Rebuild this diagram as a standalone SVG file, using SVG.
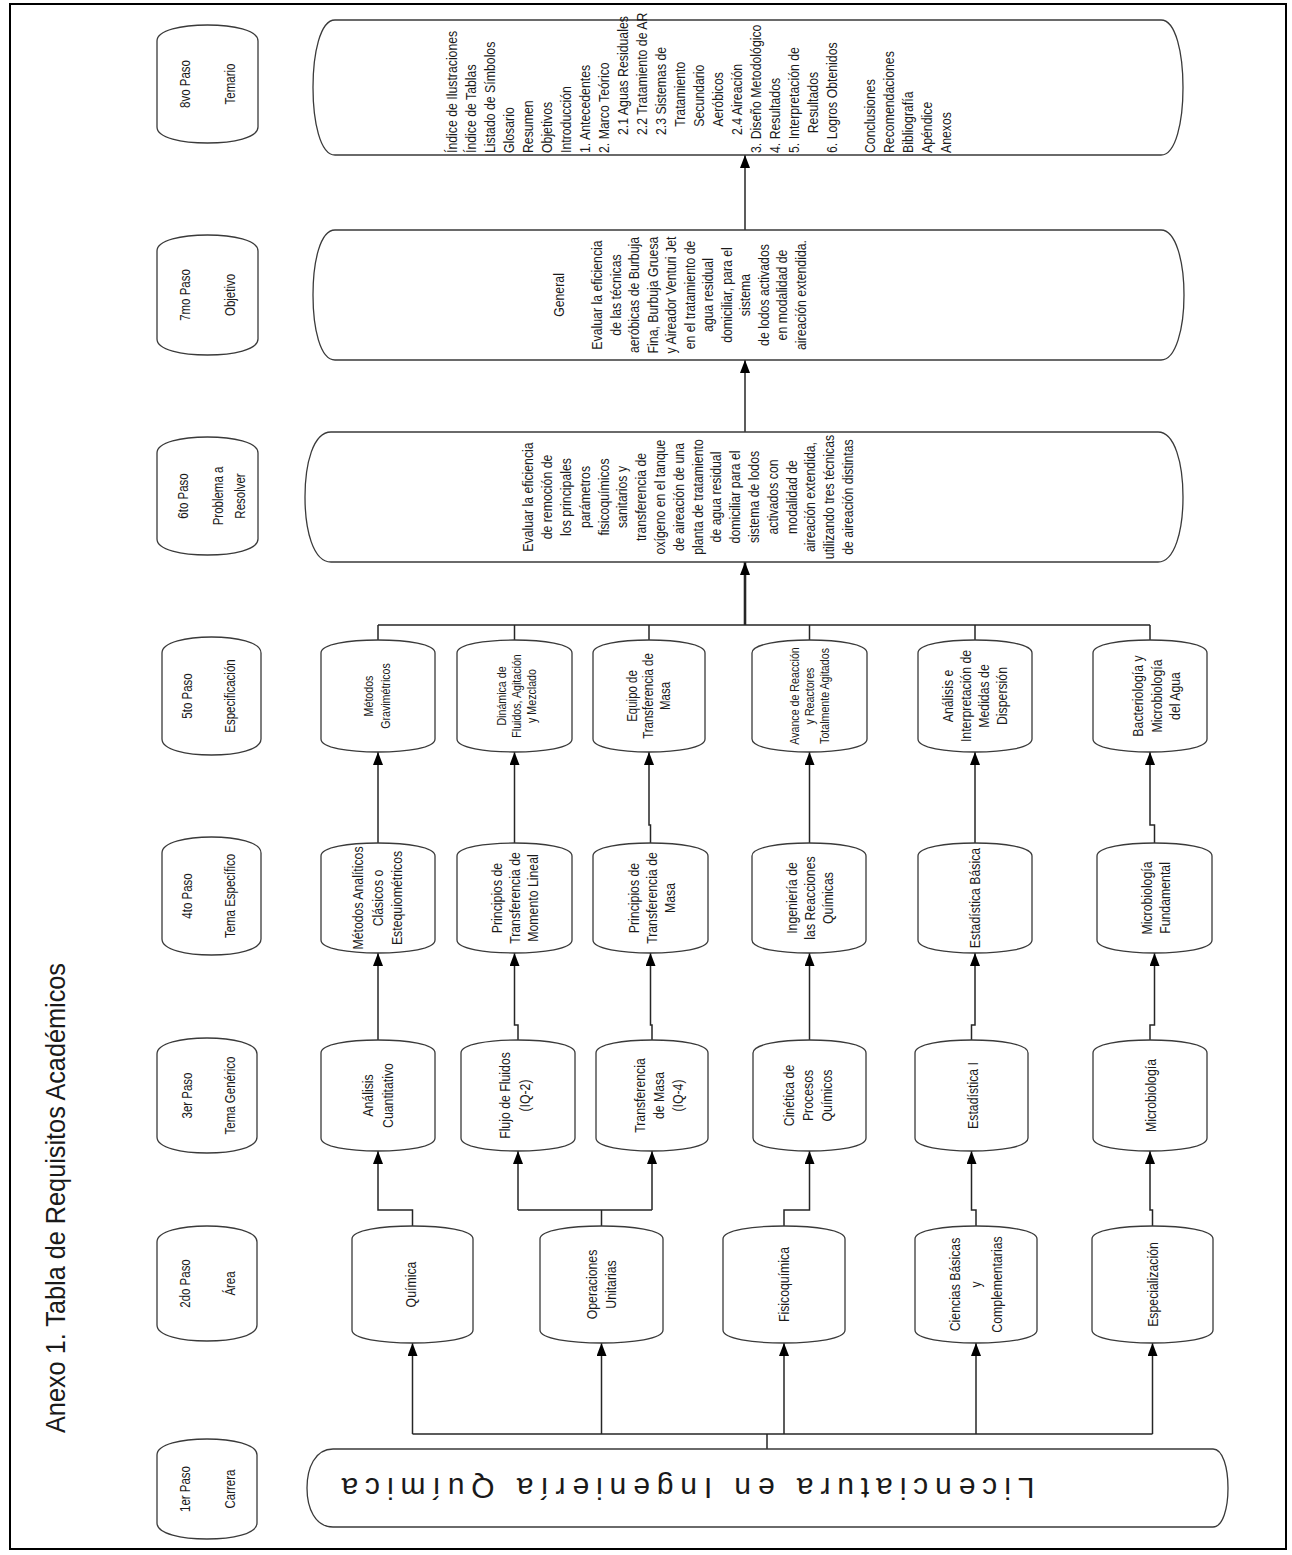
<svg xmlns="http://www.w3.org/2000/svg" width="1292" height="1555" viewBox="0 0 1292 1555">
<style>
.nd{fill:#fff;stroke:#3a3a3a;stroke-width:1.3}
.cn{fill:none;stroke:#262626;stroke-width:1.5}
.tx{font-family:"Liberation Sans",Arial,sans-serif;fill:#1a1a1a;text-anchor:middle;dominant-baseline:central}
.st{font-size:14px}
.n15{font-size:15px}
.n14{font-size:14px}
.n13{font-size:13px}
.lt{text-anchor:start}
</style>
<defs>
<marker id="ah" viewBox="0 0 13 10" refX="13" refY="5" markerWidth="13" markerHeight="10" markerUnits="userSpaceOnUse" orient="auto"><path d="M0,0 L13,5 L0,10 Z" fill="#000"/></marker>
</defs>
<rect x="10" y="4" width="1276" height="1545" fill="#fff" stroke="#000" stroke-width="2"/>
<g id="title"><text class="tx" style="font-size:27px" transform="translate(56,1198) rotate(-90)" textLength="470" lengthAdjust="spacingAndGlyphs">Anexo 1. Tabla de Requisitos Académicos</text></g>

<g id="connectors">
<path class="cn" d="M767,1449 V1434 M412.5,1434 H1152.5"/>
<path class="cn" marker-end="url(#ah)" d="M412.5,1434 V1343"/>
<path class="cn" marker-end="url(#ah)" d="M601.5,1434 V1343"/>
<path class="cn" marker-end="url(#ah)" d="M784,1434 V1343"/>
<path class="cn" marker-end="url(#ah)" d="M976,1434 V1343"/>
<path class="cn" marker-end="url(#ah)" d="M1152.5,1434 V1343"/>
<path class="cn" marker-end="url(#ah)" d="M412.5,1226 V1210 H378 V1151"/>
<path class="cn" d="M601.5,1226 V1210 M518,1210 H652"/>
<path class="cn" marker-end="url(#ah)" d="M518,1210 V1151"/>
<path class="cn" marker-end="url(#ah)" d="M652,1210 V1151"/>
<path class="cn" marker-end="url(#ah)" d="M784,1226 V1210 H809.5 V1151"/>
<path class="cn" marker-end="url(#ah)" d="M976,1226 V1210 H971.5 V1151"/>
<path class="cn" marker-end="url(#ah)" d="M1152.5,1226 V1210 H1150 V1151"/>
<path class="cn" marker-end="url(#ah)" d="M378,1040 V953"/>
<path class="cn" marker-end="url(#ah)" d="M518,1040 V1025 H514.5 V953"/>
<path class="cn" marker-end="url(#ah)" d="M652,1040 V1025 H650.5 V953"/>
<path class="cn" marker-end="url(#ah)" d="M809.5,1040 V953"/>
<path class="cn" marker-end="url(#ah)" d="M971.5,1040 V1025 H975 V953"/>
<path class="cn" marker-end="url(#ah)" d="M1150,1040 V1025 H1154.5 V953"/>
<path class="cn" marker-end="url(#ah)" d="M378,843 V752"/>
<path class="cn" marker-end="url(#ah)" d="M514.5,843 V752"/>
<path class="cn" marker-end="url(#ah)" d="M650.5,843 V825 H649 V752"/>
<path class="cn" marker-end="url(#ah)" d="M809.5,843 V752"/>
<path class="cn" marker-end="url(#ah)" d="M975,843 V752"/>
<path class="cn" marker-end="url(#ah)" d="M1154.5,843 V825 H1150 V752"/>
<path class="cn" d="M378,640 V625 M514.5,640 V625 M649,640 V625 M809.5,640 V625 M975,640 V625 M1150,640 V625 M378,625 H1150"/>
<path class="cn" style="stroke-width:2.6" marker-end="url(#ah)" d="M745,625 V562"/>
<path class="cn" marker-end="url(#ah)" d="M745,432 V360"/>
<path class="cn" marker-end="url(#ah)" d="M745,230 V155"/>
</g>

<g id="step8"><path class="nd" d="M157,41 C157,30 182,25 207.5,25 C233,25 258,30 258,41 L258,127 C258,138 233,143 207.5,143 C182,143 157,138 157,127 Z"/>
<text class="tx st" transform="translate(207.5,84) rotate(-90) scale(0.82,1)"><tspan x="0" y="-22.5">8vo Paso</tspan><tspan x="0" y="22.5">Temario</tspan></text></g>
<g id="step7"><path class="nd" d="M157,251 C157,240 182,235 207.5,235 C233,235 258,240 258,251 L258,339 C258,350 233,355 207.5,355 C182,355 157,350 157,339 Z"/>
<text class="tx st" transform="translate(207.5,295) rotate(-90) scale(0.82,1)"><tspan x="0" y="-22.5">7mo Paso</tspan><tspan x="0" y="22.5">Objetivo</tspan></text></g>
<g id="step6"><path class="nd" d="M157,453 C157,442 182,437 207.5,437 C233,437 258,442 258,453 L258,539 C258,550 233,555 207.5,555 C182,555 157,550 157,539 Z"/>
<text class="tx st" transform="translate(207.5,496) rotate(-90) scale(0.82,1)"><tspan x="0" y="-24.5">6to Paso</tspan><tspan x="0" y="10.5">Problema a</tspan><tspan x="0" y="32">Resolver</tspan></text></g>
<g id="step5"><path class="nd" d="M162,653 C162,642 187,637 211.5,637 C236,637 261,642 261,653 L261,739 C261,750 236,755 211.5,755 C187,755 162,750 162,739 Z"/>
<text class="tx st" transform="translate(211.5,696) rotate(-90) scale(0.82,1)"><tspan x="0" y="-24.5">5to Paso</tspan><tspan x="0" y="18.5">Especificación</tspan></text></g>
<g id="step4"><path class="nd" d="M162,853 C162,842 187,837 211.5,837 C236,837 261,842 261,853 L261,939 C261,950 236,955 211.5,955 C187,955 162,950 162,939 Z"/>
<text class="tx st" transform="translate(211.5,896) rotate(-90) scale(0.82,1)"><tspan x="0" y="-24.5">4to Paso</tspan><tspan x="0" y="18.5">Tema Específico</tspan></text></g>
<g id="step3"><path class="nd" d="M157,1054 C157,1043 182,1038 207,1038 C232,1038 257,1043 257,1054 L257,1137 C257,1148 232,1153 207,1153 C182,1153 157,1148 157,1137 Z"/>
<text class="tx st" transform="translate(207,1095.5) rotate(-90) scale(0.82,1)"><tspan x="0" y="-20">3er Paso</tspan><tspan x="0" y="23">Tema Genérico</tspan></text></g>
<g id="step2"><path class="nd" d="M157,1242 C157,1231 182,1226 207,1226 C232,1226 257,1231 257,1242 L257,1325 C257,1336 232,1341 207,1341 C182,1341 157,1336 157,1325 Z"/>
<text class="tx st" transform="translate(207,1283.5) rotate(-90) scale(0.82,1)"><tspan x="0" y="-22">2do Paso</tspan><tspan x="0" y="23">Área</tspan></text></g>
<g id="step1"><path class="nd" d="M157,1455 C157,1444 182,1439 207,1439 C232,1439 257,1444 257,1455 L257,1523 C257,1534 232,1539 207,1539 C182,1539 157,1534 157,1523 Z"/>
<text class="tx st" transform="translate(207,1489) rotate(-90) scale(0.82,1)"><tspan x="0" y="-22">1er Paso</tspan><tspan x="0" y="23">Carrera</tspan></text></g>

<g id="carrera"><path class="nd" d="M333,1449 L1213,1449 C1223,1449 1228,1468 1228,1488 C1228,1508 1223,1527 1213,1527 L333,1527 C315,1527 307,1508 307,1488 C307,1468 315,1449 333,1449 Z"/>
<text class="tx" style="font-size:30px" transform="translate(688,1488) rotate(180)" textLength="693" lengthAdjust="spacing">Licenciatura en Ingeniería Química</text></g>

<g id="quimica"><path class="nd" d="M352,1239 C352,1230 382,1226 412.5,1226 C443,1226 473,1230 473,1239 L473,1330 C473,1339 443,1343 412.5,1343 C382,1343 352,1339 352,1330 Z"/>
<text class="tx n15" transform="translate(412.5,1284.5) rotate(-90) scale(0.82,1)"><tspan x="0" y="-2">Química</tspan></text></g>
<g id="operaciones"><path class="nd" d="M540,1239 C540,1230 571,1226 601.5,1226 C632,1226 663,1230 663,1239 L663,1330 C663,1339 632,1343 601.5,1343 C571,1343 540,1339 540,1330 Z"/>
<text class="tx n15" transform="translate(601.5,1284.5) rotate(-90) scale(0.82,1)"><tspan x="0" y="-10">Operaciones</tspan><tspan x="0" y="9">Unitarias</tspan></text></g>
<g id="fisicoquimica"><path class="nd" d="M723,1239 C723,1230 753,1226 784,1226 C815,1226 845,1230 845,1239 L845,1330 C845,1339 815,1343 784,1343 C753,1343 723,1339 723,1330 Z"/>
<text class="tx n15" transform="translate(784,1284.5) rotate(-90) scale(0.82,1)"><tspan x="0" y="0">Fisicoquímica</tspan></text></g>
<g id="ciencias"><path class="nd" d="M915,1239 C915,1230 945,1226 976,1226 C1007,1226 1037,1230 1037,1239 L1037,1330 C1037,1339 1007,1343 976,1343 C945,1343 915,1339 915,1330 Z"/>
<text class="tx n15" transform="translate(976,1284.5) rotate(-90) scale(0.82,1)"><tspan x="0" y="-21">Ciencias Básicas</tspan><tspan x="0" y="0">y</tspan><tspan x="0" y="21">Complementarias</tspan></text></g>
<g id="especializacion"><path class="nd" d="M1092,1239 C1092,1230 1122,1226 1152.5,1226 C1183,1226 1213,1230 1213,1239 L1213,1330 C1213,1339 1183,1343 1152.5,1343 C1122,1343 1092,1339 1092,1330 Z"/>
<text class="tx n15" transform="translate(1152.5,1284.5) rotate(-90) scale(0.82,1)"><tspan x="0" y="0">Especialización</tspan></text></g>

<g id="analisis-cuantitativo"><path class="nd" d="M321,1053 C321,1044 349,1040 378,1040 C407,1040 435,1044 435,1053 L435,1138 C435,1147 407,1151 378,1151 C349,1151 321,1147 321,1138 Z"/>
<text class="tx n15" transform="translate(378,1095.5) rotate(-90) scale(0.82,1)"><tspan x="0" y="-10">Análisis</tspan><tspan x="0" y="10">Cuantitativo</tspan></text></g>
<g id="flujo-fluidos"><path class="nd" d="M461,1053 C461,1044 489,1040 518,1040 C547,1040 575,1044 575,1053 L575,1138 C575,1147 547,1151 518,1151 C489,1151 461,1147 461,1138 Z"/>
<text class="tx n15" transform="translate(518,1095.5) rotate(-90) scale(0.82,1)"><tspan x="0" y="-13">Flujo de Fluidos</tspan><tspan x="0" y="7">(IQ-2)</tspan></text></g>
<g id="transferencia-masa"><path class="nd" d="M596,1053 C596,1044 624,1040 652,1040 C680,1040 708,1044 708,1053 L708,1138 C708,1147 680,1151 652,1151 C624,1151 596,1147 596,1138 Z"/>
<text class="tx n15" transform="translate(652,1095.5) rotate(-90) scale(0.82,1)"><tspan x="0" y="-12">Transferencia</tspan><tspan x="0" y="7">de Masa</tspan><tspan x="0" y="26">(IQ-4)</tspan></text></g>
<g id="cinetica"><path class="nd" d="M753,1053 C753,1044 781,1040 809.5,1040 C838,1040 866,1044 866,1053 L866,1138 C866,1147 838,1151 809.5,1151 C781,1151 753,1147 753,1138 Z"/>
<text class="tx n15" transform="translate(809.5,1095.5) rotate(-90) scale(0.82,1)"><tspan x="0" y="-21">Cinética de</tspan><tspan x="0" y="-2">Procesos</tspan><tspan x="0" y="17">Químicos</tspan></text></g>
<g id="estadistica-1"><path class="nd" d="M915,1053 C915,1044 943,1040 971.5,1040 C1000,1040 1028,1044 1028,1053 L1028,1138 C1028,1147 1000,1151 971.5,1151 C943,1151 915,1147 915,1138 Z"/>
<text class="tx n15" transform="translate(971.5,1095.5) rotate(-90) scale(0.82,1)"><tspan x="0" y="1">Estadística I</tspan></text></g>
<g id="microbiologia"><path class="nd" d="M1093,1053 C1093,1044 1121,1040 1150,1040 C1179,1040 1207,1044 1207,1053 L1207,1138 C1207,1147 1179,1151 1150,1151 C1121,1151 1093,1147 1093,1138 Z"/>
<text class="tx n15" transform="translate(1150,1095.5) rotate(-90) scale(0.82,1)"><tspan x="0" y="1">Microbiología</tspan></text></g>

<g id="metodos-analiticos"><path class="nd" d="M321,856 C321,847 349,843 378,843 C407,843 435,847 435,856 L435,940 C435,949 407,953 378,953 C349,953 321,949 321,940 Z"/>
<text class="tx n15" transform="translate(378,898) rotate(-90) scale(0.82,1)"><tspan x="0" y="-20">Métodos Analíticos</tspan><tspan x="0" y="0">Clásicos o</tspan><tspan x="0" y="19">Estequiométricos</tspan></text></g>
<g id="principios-momento"><path class="nd" d="M457,856 C457,847 486,843 514.5,843 C543,843 572,847 572,856 L572,940 C572,949 543,953 514.5,953 C486,953 457,949 457,940 Z"/>
<text class="tx n15" transform="translate(514.5,898) rotate(-90) scale(0.82,1)"><tspan x="0" y="-18">Principios de</tspan><tspan x="0" y="0">Transferencia de</tspan><tspan x="0" y="18">Momento Lineal</tspan></text></g>
<g id="principios-masa"><path class="nd" d="M593,856 C593,847 622,843 650.5,843 C679,843 708,847 708,856 L708,940 C708,949 679,953 650.5,953 C622,953 593,949 593,940 Z"/>
<text class="tx n15" transform="translate(650.5,898) rotate(-90) scale(0.82,1)"><tspan x="0" y="-17">Principios de</tspan><tspan x="0" y="1">Transferencia de</tspan><tspan x="0" y="19">Masa</tspan></text></g>
<g id="ingenieria-reacciones"><path class="nd" d="M752,856 C752,847 780,843 809,843 C838,843 866,847 866,856 L866,940 C866,949 838,953 809,953 C780,953 752,949 752,940 Z"/>
<text class="tx n15" transform="translate(809,898) rotate(-90) scale(0.82,1)"><tspan x="0" y="-17">Ingeniería de</tspan><tspan x="0" y="1">las Reacciones</tspan><tspan x="0" y="19">Químicas</tspan></text></g>
<g id="estadistica-basica"><path class="nd" d="M918,856 C918,847 946,843 975,843 C1004,843 1032,847 1032,856 L1032,940 C1032,949 1004,953 975,953 C946,953 918,949 918,940 Z"/>
<text class="tx n15" transform="translate(975,898) rotate(-90) scale(0.82,1)"><tspan x="0" y="0">Estadística Básica</tspan></text></g>
<g id="microbiologia-fundamental"><path class="nd" d="M1097,856 C1097,847 1126,843 1154.5,843 C1183,843 1212,847 1212,856 L1212,940 C1212,949 1183,953 1154.5,953 C1126,953 1097,949 1097,940 Z"/>
<text class="tx n15" transform="translate(1154.5,898) rotate(-90) scale(0.82,1)"><tspan x="0" y="-8">Microbiología</tspan><tspan x="0" y="10">Fundamental</tspan></text></g>

<g id="metodos-gravimetricos"><path class="nd" d="M321,653 C321,644 349,640 378,640 C407,640 435,644 435,653 L435,739 C435,748 407,752 378,752 C349,752 321,748 321,739 Z"/>
<text class="tx n13" transform="translate(378,696) rotate(-90) scale(0.82,1)"><tspan x="0" y="-9">Métodos</tspan><tspan x="0" y="8">Gravimétricos</tspan></text></g>
<g id="dinamica-fluidos"><path class="nd" d="M457,653 C457,644 486,640 514.5,640 C543,640 572,644 572,653 L572,739 C572,748 543,752 514.5,752 C486,752 457,748 457,739 Z"/>
<text class="tx n13" transform="translate(514.5,696) rotate(-90) scale(0.82,1)"><tspan x="0" y="-13">Dinámica de</tspan><tspan x="0" y="2">Fluidos, Agitación</tspan><tspan x="0" y="17">y Mezclado</tspan></text></g>
<g id="equipo-transferencia"><path class="nd" d="M593,653 C593,644 621,640 649,640 C677,640 705,644 705,653 L705,739 C705,748 677,752 649,752 C621,752 593,748 593,739 Z"/>
<text class="tx n14" transform="translate(649,696) rotate(-90) scale(0.82,1)"><tspan x="0" y="-17">Equipo de</tspan><tspan x="0" y="-1">Transferencia de</tspan><tspan x="0" y="16">Masa</tspan></text></g>
<g id="avance-reaccion"><path class="nd" d="M752,653 C752,644 781,640 809.5,640 C838,640 867,644 867,653 L867,739 C867,748 838,752 809.5,752 C781,752 752,748 752,739 Z"/>
<text class="tx n13" transform="translate(809.5,696) rotate(-90) scale(0.82,1)"><tspan x="0" y="-15">Avance de Reacción</tspan><tspan x="0" y="0">y Reactores</tspan><tspan x="0" y="15">Totalmente Agitados</tspan></text></g>
<g id="analisis-dispersion"><path class="nd" d="M918,653 C918,644 946,640 975,640 C1004,640 1032,644 1032,653 L1032,739 C1032,748 1004,752 975,752 C946,752 918,748 918,739 Z"/>
<text class="tx n15" transform="translate(975,696) rotate(-90) scale(0.82,1)"><tspan x="0" y="-27">Análisis e</tspan><tspan x="0" y="-9">Interpretación de</tspan><tspan x="0" y="9">Medidas de</tspan><tspan x="0" y="27">Dispersión</tspan></text></g>
<g id="bacteriologia"><path class="nd" d="M1093,653 C1093,644 1121,640 1150,640 C1179,640 1207,644 1207,653 L1207,739 C1207,748 1179,752 1150,752 C1121,752 1093,748 1093,739 Z"/>
<text class="tx n15" transform="translate(1150,696) rotate(-90) scale(0.82,1)"><tspan x="0" y="-12">Bacteriología y</tspan><tspan x="0" y="7">Microbiología</tspan><tspan x="0" y="25">del Agua</tspan></text></g>

<g id="problema"><path class="nd" d="M331,432 L1158,432 C1175,432 1183,464 1183,497 C1183,530 1175,562 1158,562 L331,562 C313,562 305,530 305,497 C305,464 313,432 331,432 Z"/>
<text class="tx n15" transform="translate(528,497) rotate(-90) scale(0.82,1)">
<tspan x="0" dy="0">Evaluar la eficiencia</tspan><tspan x="0" dy="18.8">de remoción de</tspan><tspan x="0" dy="18.8">los principales</tspan><tspan x="0" dy="18.8">parámetros</tspan><tspan x="0" dy="18.8">fisicoquímicos</tspan><tspan x="0" dy="18.8">sanitarios y</tspan><tspan x="0" dy="18.8">transferencia de</tspan><tspan x="0" dy="18.8">oxígeno en el tanque</tspan><tspan x="0" dy="18.8">de aireación de una</tspan><tspan x="0" dy="18.8">planta de tratamiento</tspan><tspan x="0" dy="18.8">de agua residual</tspan><tspan x="0" dy="18.8">domiciliar para el</tspan><tspan x="0" dy="18.8">sistema de lodos</tspan><tspan x="0" dy="18.8">activados con</tspan><tspan x="0" dy="18.8">modalidad de</tspan><tspan x="0" dy="18.8">aireación extendida,</tspan><tspan x="0" dy="18.8">utilizando tres técnicas</tspan><tspan x="0" dy="18.8">de aireación distintas</tspan></text></g>

<g id="objetivo"><path class="nd" d="M335,230 L1161,230 C1176,230 1184,262 1184,295 C1184,328 1176,360 1161,360 L335,360 C320,360 313,328 313,295 C313,262 320,230 335,230 Z"/>
<text class="tx n15" transform="translate(559,295) rotate(-90) scale(0.82,1)">
<tspan x="0" dy="0">General</tspan><tspan x="0" dy="37.6">Evaluar la eficiencia</tspan><tspan x="0" dy="18.5">de las técnicas</tspan><tspan x="0" dy="18.5">aeróbicas de Burbuja</tspan><tspan x="0" dy="18.5">Fina, Burbuja Gruesa</tspan><tspan x="0" dy="18.5">y Aireador Venturi Jet</tspan><tspan x="0" dy="18.5">en el tratamiento de</tspan><tspan x="0" dy="18.5">agua residual</tspan><tspan x="0" dy="18.5">domiciliar, para el</tspan><tspan x="0" dy="18.5">sistema</tspan><tspan x="0" dy="18.5">de lodos activados</tspan><tspan x="0" dy="18.5">en modalidad de</tspan><tspan x="0" dy="18.5">aireación extendida.</tspan></text></g>

<g id="temario"><path class="nd" d="M335,20 L1161,20 C1176,20 1183,54 1183,87.5 C1183,121 1176,155 1161,155 L335,155 C320,155 313,121 313,87.5 C313,54 320,20 335,20 Z"/>
<text class="tx n15 lt" transform="translate(452,153) rotate(-90) scale(0.82,1)">
<tspan x="0" y="0">Índice de Ilustraciones</tspan>
<tspan x="0" y="19">Índice de Tablas</tspan>
<tspan x="0" y="38">Listado de Símbolos</tspan>
<tspan x="0" y="57">Glosario</tspan>
<tspan x="0" y="76">Resumen</tspan>
<tspan x="0" y="95">Objetivos</tspan>
<tspan x="0" y="114">Introducción</tspan>
<tspan x="0" y="133">1. Antecedentes</tspan>
<tspan x="0" y="152">2. Marco Teórico</tspan>
<tspan x="22" y="171">2.1 Aguas Residuales</tspan>
<tspan x="22" y="190">2.2 Tratamiento de AR</tspan>
<tspan x="22" y="209">2.3 Sistemas de</tspan>
<tspan x="32" y="228">Tratamiento</tspan>
<tspan x="32" y="247">Secundario</tspan>
<tspan x="32" y="266">Aeróbicos</tspan>
<tspan x="22" y="285">2.4 Aireación</tspan>
<tspan x="0" y="304">3. Diseño Metodológico</tspan>
<tspan x="0" y="323">4. Resultados</tspan>
<tspan x="0" y="342">5. Interpretación de</tspan>
<tspan x="24" y="361">Resultados</tspan>
<tspan x="0" y="380">6. Logros Obtenidos</tspan>
<tspan x="0" y="418">Conclusiones</tspan>
<tspan x="0" y="437">Recomendaciones</tspan>
<tspan x="0" y="456">Bibliografía</tspan>
<tspan x="0" y="475">Apéndice</tspan>
<tspan x="0" y="494">Anexos</tspan></text></g>
</svg>
